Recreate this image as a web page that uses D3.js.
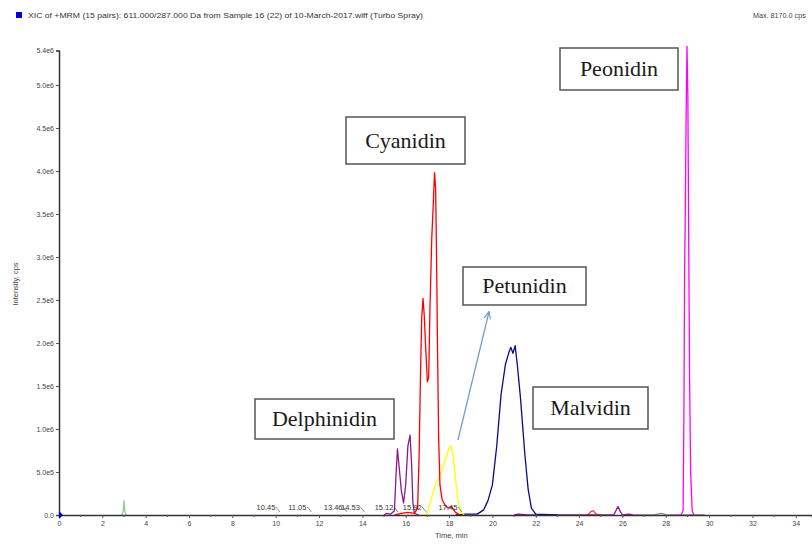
<!DOCTYPE html>
<html lang="en">
<head>
    <meta charset="UTF-8">
    <title>XIC chromatogram</title>
    <script src="https://d3js.org/d3.v7.min.js"></script>
    <style>
        body { margin: 0; background: #fff; }
        svg { display: block; }
        .trace { fill: none; stroke-width: 1.3; stroke-linejoin: round; }
        .axis text { font-family: "Liberation Sans", Arial, sans-serif; font-size: 7px; fill: #444; }
        .note rect { fill: #fff; stroke: #555; stroke-width: 1.5; }
        .note text { font-family: "Liberation Serif", "Times New Roman", serif; font-size: 22px; fill: #1a1a1a; }
        .peaklab { font-family: "Liberation Sans", Arial, sans-serif; font-size: 7.5px; fill: #333; }
    </style>
</head>
<body>
<script>
    const width = 812;
    const height = 544;

    // traces: [time (min), intensity (cps)]
    const delphinidin = [[15.0,0],[15.12,0.02e6],[15.3,0.01e6],[15.48,0.05e6],[15.55,0.45e6],[15.62,0.77e6],[15.7,0.55e6],[15.8,0.28e6],[15.9,0.14e6],[16.0,0.35e6],[16.1,0.8e6],[16.2,0.93e6],[16.27,0.6e6],[16.33,0.15e6],[16.4,0.02e6],[16.6,0]];
    const cyanidin = [[15.5,0],[15.8,0.02e6],[16.1,0.03e6],[16.4,0.02e6],[16.55,0.08e6],[16.62,0.7e6],[16.68,1.6e6],[16.74,2.3e6],[16.8,2.52e6],[16.86,2.3e6],[16.93,1.9e6],[17.0,1.55e6],[17.06,1.6e6],[17.12,2.4e6],[17.2,3.2e6],[17.27,3.6e6],[17.33,3.98e6],[17.38,3.8e6],[17.42,3.1e6],[17.47,1.9e6],[17.52,0.9e6],[17.58,0.35e6],[17.68,0.18e6],[17.8,0.12e6],[17.95,0.08e6],[18.1,0.1e6],[18.3,0.03e6],[18.5,0]];
    const petunidin = [[16.9,0],[17.0,0.03e6],[17.1,0.12e6],[17.25,0.25e6],[17.4,0.38e6],[17.55,0.44e6],[17.65,0.5e6],[17.8,0.62e6],[17.95,0.74e6],[18.07,0.81e6],[18.18,0.7e6],[18.3,0.42e6],[18.42,0.15e6],[18.55,0.03e6],[18.7,0]];
    const malvidin = [[18.3,0],[18.8,0.01e6],[19.3,0.01e6],[19.6,0.06e6],[19.8,0.17e6],[20.0,0.35e6],[20.2,0.8e6],[20.4,1.4e6],[20.6,1.75e6],[20.75,1.88e6],[20.85,1.95e6],[20.95,1.88e6],[21.05,1.97e6],[21.15,1.75e6],[21.3,1.35e6],[21.5,0.7e6],[21.65,0.3e6],[21.8,0.08e6],[22.0,0.01e6],[23.0,0]];
    const peonidin = [[28.7,0],[28.8,0.05e6],[28.84,1.2e6],[28.87,2.8e6],[28.9,3.45e6],[28.94,4.6e6],[28.98,5.45e6],[29.02,4.9e6],[29.06,3.2e6],[29.1,1.6e6],[29.15,0.5e6],[29.22,0.05e6],[29.3,0]];
    const minorGreen = [[2.9,0],[2.97,0.05e6],[3.0,0.17e6],[3.04,0.04e6],[3.1,0]];
    const minorPurple = [[21.0,0],[21.2,0.01e6],[21.6,0],[25.6,0],[25.72,0.06e6],[25.8,0.1e6],[25.88,0.05e6],[26.0,0],[26.3,0.01e6],[26.5,0]];
    const minorRed = [[24.4,0],[24.55,0.04e6],[24.65,0.05e6],[24.8,0.01e6],[24.9,0]];
    const minorYellow = [[24.85,0],[24.95,0.01e6],[25.05,0]];
    const minorGrey = [[26.5,0],[27.5,0.005e6],[27.8,0.02e6],[28.0,0.005e6],[29.4,0],[29.8,0]];

    const yTicks = [0, 5e5, 1e6, 1.5e6, 2e6, 2.5e6, 3e6, 3.5e6, 4e6, 4.5e6, 5e6, 5.4e6];
    const yTickLabels = ["0.0", "5.0e5", "1.0e6", "1.5e6", "2.0e6", "2.5e6", "3.0e6", "3.5e6", "4.0e6", "4.5e6", "5.0e6", "5.4e6"];
    const xTicks = d3.range(0, 35, 2);
    const xMinor = d3.range(1, 35, 2);

    // retention time labels along the baseline
    const peakLabels = ["10.45", "11.05", "13.46", "14.53", "15.12", "15.92", "17.45"];
    const peakLabelTimes = [9.55, 11.0, 12.65, 13.45, 15.0, 16.3, 17.95];

    const series = [
        {data: minorGreen, color: "#8fd08f"},
        {data: minorGrey, color: "#8a8a8a"},
        {data: minorRed, color: "#ff4040"},
        {data: minorYellow, color: "#e0d000"},
        {data: minorPurple, color: "#8b1a8b"},
        {data: malvidin, color: "#0a0a8c"},
        {data: petunidin, color: "#ffff00"},
        {data: delphinidin, color: "#8b1a8b"},
        {data: cyanidin, color: "#ff0000"},
        {data: peonidin, color: "#ff00ff"}
    ];

    const svg = d3.select("body").append("svg")
            .attr("width", width).attr("height", height);

    const x = d3.scaleLinear().domain([0, 34.75]).range([59, 812]);
    const y = d3.scaleLinear().domain([0, 5.4e6]).range([515, 50.6]);

    // header
    svg.append("rect").attr("x", 16).attr("y", 12).attr("width", 6).attr("height", 6).attr("fill", "#0000cc");
    svg.append("text").attr("x", 28).attr("y", 18)
        .attr("font-family", "Liberation Sans, Arial, sans-serif").attr("font-size", 7.2).attr("fill", "#333")
        .attr("textLength", 395).attr("lengthAdjust", "spacingAndGlyphs")
        .text("XIC of +MRM (15 pairs): 611.000/287.000 Da  from Sample 16 (22) of 10-March-2017.wiff (Turbo Spray)");
    svg.append("text").attr("x", 753).attr("y", 18)
        .attr("font-family", "Liberation Sans, Arial, sans-serif").attr("font-size", 7.2).attr("fill", "#444")
        .text("Max. 8170.0 cps");

    // traces
    const line = d3.line().x(d => x(d[0])).y(d => y(d[1]));
    svg.selectAll("path.trace").data(series).enter()
        .append("path").attr("class", "trace")
        .attr("stroke", d => d.color)
        .attr("d", d => line(d.data));

    // y axis
    const yAxis = svg.append("g").attr("class", "axis").attr("transform", `translate(${x(0)},0)`)
        .call(d3.axisLeft(y).tickValues(yTicks).tickSize(3).tickPadding(2)
            .tickFormat((d, i) => yTickLabels[i]));
    yAxis.select(".domain").attr("stroke", "#333").attr("stroke-width", 1.5);
    yAxis.selectAll(".tick line").attr("stroke", "#555");

    // x axis
    const xAxis = svg.append("g").attr("class", "axis").attr("transform", `translate(0,${y(0)})`)
        .call(d3.axisBottom(x).tickValues(xTicks).tickSize(3).tickPadding(3).tickFormat(d3.format("d")));
    xAxis.select(".domain").attr("stroke", "#333").attr("stroke-width", 1.5);
    xAxis.selectAll(".tick line").attr("stroke", "#555");
    xAxis.selectAll(".tick text").attr("font-size", 7.5);
    svg.append("g").selectAll("line").data(xMinor).enter().append("line")
        .attr("x1", d => x(d)).attr("x2", d => x(d))
        .attr("y1", y(0)).attr("y2", y(0) + 2)
        .attr("stroke", "#555");

    // blue cursor at origin
    svg.append("path")
        .attr("d", `M${x(0)},${y(0) - 4}L${x(0) + 4},${y(0)}L${x(0)},${y(0) + 4}Z`)
        .attr("fill", "#0000cc");

    svg.append("text").attr("x", x(17.35)).attr("y", 538)
        .attr("font-family", "Liberation Sans, Arial, sans-serif").attr("font-size", 7.5).attr("fill", "#444")
        .text("Time, min");
    svg.append("text").attr("transform", "translate(18,284) rotate(-90)")
        .attr("text-anchor", "middle")
        .attr("font-family", "Liberation Sans, Arial, sans-serif").attr("font-size", 7.5).attr("fill", "#444")
        .text("Intensity, cps");

    // baseline peak labels
    const pl = svg.append("g");
    peakLabels.forEach((lab, i) => {
        const cx = x(peakLabelTimes[i]);
        pl.append("text").attr("class", "peaklab").attr("x", cx).attr("y", 510)
            .attr("text-anchor", "middle").text(lab);
        pl.append("line")
            .attr("x1", cx + 10).attr("y1", 507).attr("x2", cx + 14).attr("y2", 512)
            .attr("stroke", "#555").attr("stroke-width", 0.7);
    });

    // annotation boxes
    const notes = [
        {label: "Cyanidin", x: 346, y: 117, w: 119, h: 47},
        {label: "Peonidin", x: 560, y: 48, w: 118, h: 42},
        {label: "Petunidin", x: 463, y: 267, w: 123, h: 38},
        {label: "Delphinidin", x: 255, y: 399, w: 139, h: 40},
        {label: "Malvidin", x: 533, y: 387, w: 115, h: 42}
    ];
    const g = svg.selectAll("g.note").data(notes).enter().append("g").attr("class", "note");
    g.append("rect").attr("x", d => d.x).attr("y", d => d.y).attr("width", d => d.w).attr("height", d => d.h);
    g.append("text").attr("x", d => d.x + d.w / 2).attr("y", d => d.y + d.h / 2 + 7)
        .attr("text-anchor", "middle").text(d => d.label);

    // arrow toward Petunidin label
    svg.append("defs").append("marker").attr("id", "ah")
        .attr("viewBox", "0 0 10 10").attr("refX", 9).attr("refY", 5)
        .attr("markerWidth", 6).attr("markerHeight", 6).attr("orient", "auto")
        .append("path").attr("d", "M0,1L10,5L0,9").attr("fill", "none").attr("stroke", "#6f9bd0").attr("stroke-width", 1.5);
    svg.append("line")
        .attr("x1", x(18.41)).attr("y1", y(0.87e6)).attr("x2", x(19.84)).attr("y2", y(2.36e6))
        .attr("stroke", "#6f9bd0").attr("stroke-width", 1.3).attr("marker-end", "url(#ah)");
</script>
</body>
</html>
